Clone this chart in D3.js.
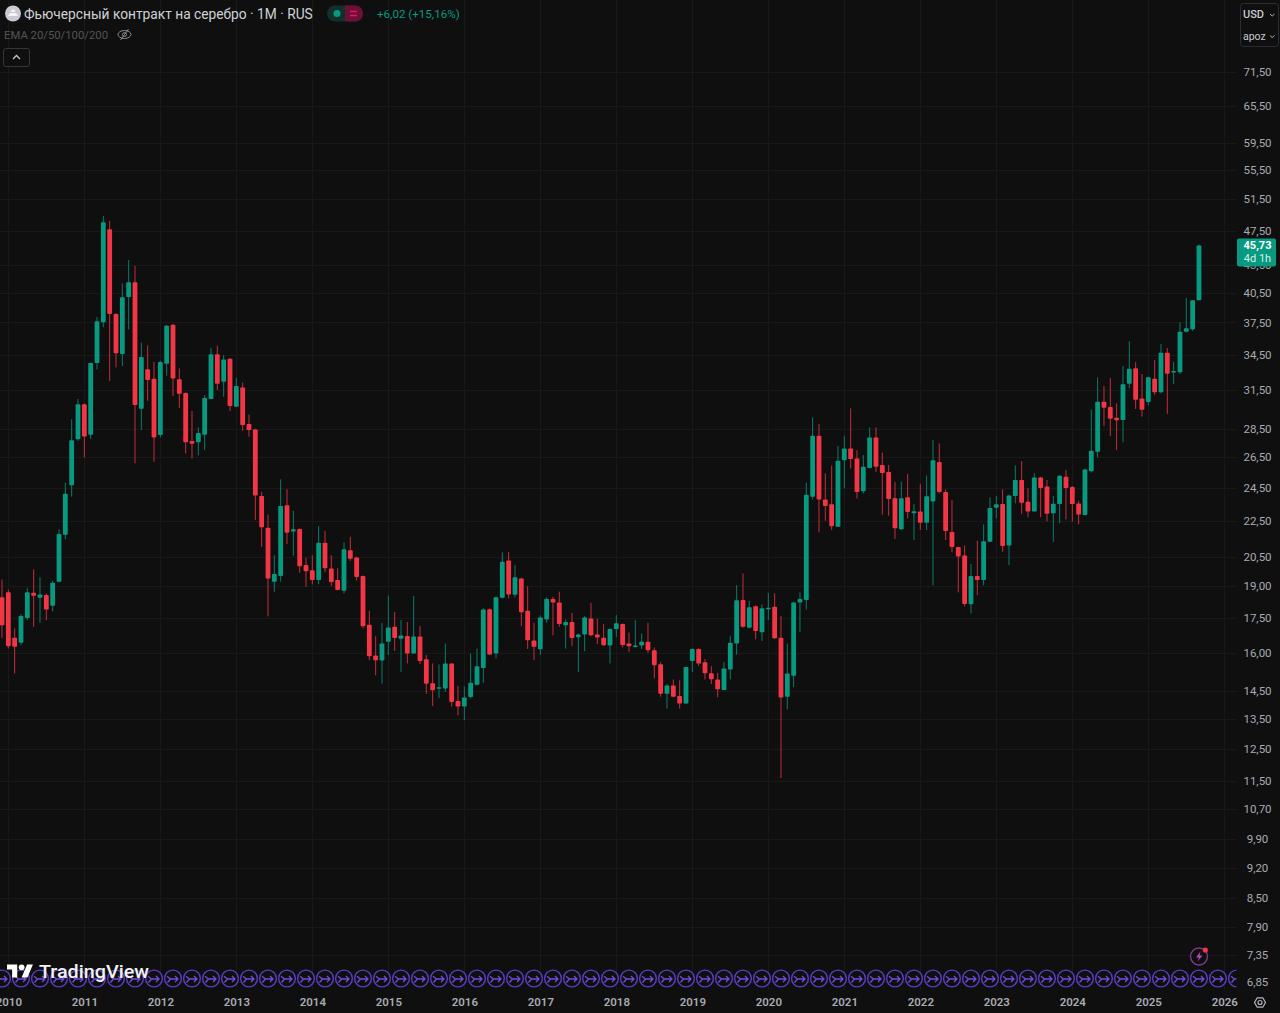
<!DOCTYPE html>
<html lang="ru">
<head>
<meta charset="utf-8">
<title>Фьючерсный контракт на серебро</title>
<script src="https://cdn.jsdelivr.net/npm/d3@7/dist/d3.min.js"></script>
<style>
html,body{margin:0;padding:0;background:#0f0f0f;overflow:hidden}
svg{display:block}
text{font-family:Roboto,"Noto Sans",sans-serif}
</style>
</head>
<body>
<svg id="chart" width="1280" height="1013"></svg>
<script>
// Monthly candles, Dec 2009 .. Sep 2025 (first element is month index -1, Jan 2010 = 0)
const firstMonthIndex = -1;
const opens = [18.46,18.71,16.63,16.42,17.50,18.68,18.44,18.57,18.06,19.22,21.69,24.64,27.74,
30.36,28.07,33.77,37.51,47.67,38.33,34.57,40.03,41.58,30.02,33.23,32.43,
28.05,33.71,37.28,32.38,31.26,27.62,27.53,28.07,30.78,34.55,32.18,34.14,
30.17,31.71,28.86,28.46,23.97,22.09,19.22,19.51,23.40,21.87,22.02,20.06,
19.80,19.30,21.25,19.88,19.30,18.78,20.85,20.46,19.50,17.20,15.89,15.69,
16.46,17.11,16.59,16.71,15.97,16.69,15.74,14.79,14.62,14.60,15.57,14.13,
13.93,14.28,14.74,15.39,17.90,15.97,18.44,20.30,18.58,19.38,17.83,16.52,
16.15,17.44,18.38,18.22,17.18,17.32,16.66,16.77,17.48,16.77,16.64,16.31,
17.01,17.23,16.39,16.27,16.31,16.46,16.11,15.54,14.40,14.71,14.32,14.04,
15.67,16.16,15.62,15.18,14.94,14.54,15.33,16.39,18.33,17.07,18.04,16.87,
17.92,18.02,16.64,14.29,15.08,18.22,18.33,23.93,27.99,23.76,23.46,22.14,
26.28,27.10,26.41,24.26,25.76,27.88,25.96,25.50,23.84,22.00,23.89,22.93,
23.03,22.37,23.64,26.16,24.22,21.85,21.02,20.56,18.14,19.50,19.30,21.30,
23.25,23.48,21.10,23.97,24.98,23.62,23.03,25.15,24.56,22.93,23.48,25.19,
24.53,23.52,22.83,25.55,26.86,30.56,30.15,29.33,29.16,32.01,33.31,30.83,
30.54,32.43,31.32,34.68,32.97,32.97,36.61,36.84,39.71];
const highs = [19.33,18.84,17.04,17.68,18.92,19.84,19.44,18.65,19.27,22.00,24.81,29.21,30.78,
30.44,33.83,38.02,49.33,48.70,38.40,41.47,44.04,43.40,35.60,35.34,33.86,
33.97,37.25,37.35,33.31,31.32,29.84,28.61,31.10,35.13,35.31,34.47,34.20,
32.51,32.10,29.56,28.51,24.23,22.85,20.58,25.02,24.40,23.08,22.06,20.45,
20.58,22.18,21.92,20.58,19.90,21.27,21.58,20.50,19.53,17.83,16.70,17.29,
18.54,17.78,17.41,17.32,18.52,17.14,15.91,15.57,15.53,16.39,15.57,14.69,
14.67,15.97,16.18,17.94,17.94,18.49,20.73,20.75,20.06,19.42,19.00,17.29,
17.62,18.46,18.49,18.73,17.44,17.74,16.82,17.59,18.20,17.47,17.23,17.04,
17.64,17.26,16.86,17.41,16.82,17.29,16.22,15.63,14.76,14.94,14.91,15.44,
16.19,16.19,15.75,15.46,15.19,15.62,16.70,19.05,19.63,18.30,18.08,18.13,
18.68,18.65,17.59,16.39,18.25,18.70,24.81,29.36,28.86,25.41,25.92,27.26,
27.99,30.05,26.98,26.64,28.61,28.61,26.80,25.96,24.87,24.87,25.38,23.48,
24.72,25.27,27.69,27.45,24.38,23.72,21.03,21.10,20.11,21.36,22.28,23.89,
23.97,24.38,24.05,25.94,26.23,24.45,25.41,25.19,24.98,23.97,25.30,25.63,
24.60,23.68,25.72,29.97,32.55,31.82,32.49,30.44,33.51,35.71,33.85,32.83,
32.60,34.03,35.48,35.10,33.89,37.51,39.95,39.71,45.85];
const lows = [16.63,16.18,15.17,16.32,17.41,17.11,17.29,17.41,17.80,19.19,21.44,23.93,27.64,
26.48,27.76,33.23,37.03,32.24,33.40,33.51,36.84,26.08,28.41,30.64,26.19,
27.88,32.68,31.02,30.08,26.75,26.41,26.62,26.98,30.78,31.50,30.96,29.84,
30.17,28.36,27.92,22.53,21.03,17.58,18.73,19.22,21.18,20.55,19.67,18.97,
19.09,19.10,19.70,19.02,18.80,18.65,20.28,19.27,17.04,15.70,15.10,14.78,
15.91,16.08,15.23,15.57,15.95,15.54,14.40,13.95,14.24,14.47,13.93,13.62,
13.45,14.23,14.71,14.81,15.91,15.78,18.41,18.41,18.46,17.14,16.16,15.70,
15.91,17.29,16.74,17.11,16.18,16.28,15.23,16.07,16.70,16.36,16.29,15.57,
16.66,16.22,16.04,16.22,16.16,16.00,14.98,14.29,13.86,14.27,13.86,14.03,
15.23,15.46,14.94,14.76,14.27,14.53,14.94,15.92,17.07,17.04,16.57,16.50,
17.41,16.59,11.59,13.83,14.65,16.89,17.89,23.76,21.83,22.49,21.96,22.13,
24.45,25.74,23.82,24.13,25.74,25.50,22.85,22.79,21.46,21.96,22.63,21.40,
21.96,21.96,19.04,24.13,21.40,20.74,18.70,18.04,17.71,18.57,19.04,21.29,
22.63,20.76,20.06,23.52,22.90,22.69,23.03,22.69,22.46,21.30,22.35,22.57,
22.44,22.29,22.79,25.46,26.48,28.70,27.97,26.98,27.53,31.64,30.00,29.41,
30.29,31.12,31.24,29.62,31.98,32.83,36.55,36.68,39.71];
const closes = [17.18,16.28,16.25,17.60,18.70,18.54,18.60,17.89,19.17,21.73,24.11,27.67,30.36,
27.95,33.77,37.61,48.53,38.33,34.63,40.00,41.58,30.31,34.30,32.32,27.88,
33.85,37.18,32.46,31.20,27.53,27.43,28.19,30.86,34.55,32.01,34.09,30.23,
31.82,28.78,28.41,24.00,22.11,19.38,19.60,23.36,21.81,22.00,20.00,19.74,
19.30,21.25,19.90,19.20,18.81,20.90,20.39,19.46,17.14,15.86,15.70,16.39,
17.08,16.62,16.73,15.97,16.69,15.67,14.78,14.53,14.64,15.57,14.10,13.93,
14.26,14.81,15.46,17.89,15.93,18.47,20.23,18.60,19.44,17.77,16.53,16.25,
17.53,18.38,18.22,17.23,17.32,16.62,16.77,17.53,16.74,16.65,16.32,17.01,
17.27,16.33,16.27,16.31,16.46,16.11,15.50,14.40,14.71,14.29,14.04,15.43,
16.16,15.57,15.18,14.95,14.57,15.37,16.42,18.32,17.11,18.00,16.93,17.95,
17.97,16.61,14.26,15.17,18.22,18.38,24.05,27.99,23.76,23.36,22.18,26.25,
27.10,26.37,24.22,25.85,27.88,25.85,25.44,23.78,22.06,23.84,23.01,23.05,
22.37,23.95,26.28,24.22,21.90,21.02,20.51,18.15,19.50,19.30,21.33,23.24,
23.46,21.07,24.00,24.98,23.56,23.03,25.15,24.47,22.90,23.50,25.25,24.47,
23.48,22.85,25.67,26.93,30.56,30.10,29.26,29.14,31.98,33.28,30.72,29.94,
32.55,31.32,34.68,32.86,33.08,36.61,36.93,39.71,45.73];

const priceTicks = [71.5,65.5,59.5,55.5,51.5,47.5,43.5,40.5,37.5,34.5,31.5,28.5,26.5,24.5,22.5,20.5,19,17.5,16,14.5,13.5,12.5,11.5,10.7,9.9,9.2,8.5,7.9,7.35,6.85];
const yearLabels = [2010,2011,2012,2013,2014,2015,2016,2017,2018,2019,2020,2021,2022,2023,2024,2025,2026];
const eventMonths = d3.range(-1, 196, 3);
const lastPrice = 45.73;
const titleText = "Фьючерсный контракт на серебро · 1M · RUS";
const changeText = "+6,02 (+15,16%)";

const UP = "#089981", DOWN = "#f23645", TXT = "#a8abb2", GRID = "#191919", BG = "#0f0f0f";
const svg = d3.select("#chart");
svg.append("rect").attr("width",1280).attr("height",1013).attr("fill",BG);

const plotRight = 1236.5;
const x = d3.scaleLinear().domain([0,192]).range([8.33,1224.3]);
const y = d3.scaleLog().domain([71.5,6.85]).range([72,982]);
const fmt = v => v.toFixed(2).replace(".",",");

svg.append("defs").append("clipPath").attr("id","plot")
  .append("rect").attr("x",0).attr("y",0).attr("width",plotRight).attr("height",1013);

// grid
const grid = svg.append("g").attr("stroke",GRID).attr("stroke-width",1);
grid.selectAll(".h").data(priceTicks).join("line")
  .attr("x1",0).attr("x2",plotRight)
  .attr("y1",d=>Math.round(y(d))+.5).attr("y2",d=>Math.round(y(d))+.5);
grid.selectAll(".v").data(yearLabels).join("line")
  .attr("x1",d=>Math.round(x((d-2010)*12))+.5).attr("x2",d=>Math.round(x((d-2010)*12))+.5)
  .attr("y1",0).attr("y2",990);

// candles
const candles = d3.range(opens.length).map(i=>({m:i+firstMonthIndex,o:opens[i],h:highs[i],l:lows[i],c:closes[i]}));
const gC = svg.append("g").attr("clip-path","url(#plot)");
const col = d => d.c>=d.o ? UP : DOWN;
gC.selectAll("line.w").data(candles).join("line").attr("class","w")
  .attr("x1",d=>x(d.m)).attr("x2",d=>x(d.m))
  .attr("y1",d=>y(d.h)).attr("y2",d=>y(d.l))
  .attr("stroke",col).attr("stroke-width",1).attr("stroke-opacity",.8);
gC.selectAll("rect.b").data(candles).join("rect").attr("class","b")
  .attr("x",d=>x(d.m)-2.4).attr("width",4.8)
  .attr("y",d=>y(Math.max(d.o,d.c)))
  .attr("height",d=>Math.max(1.5,Math.abs(y(d.o)-y(d.c))))
  .attr("rx",.8)
  .attr("fill",col);

// event markers
const ev = svg.append("g").attr("clip-path","url(#plot)").selectAll("g").data(eventMonths).join("g")
  .attr("transform",d=>`translate(${x(d)},978.5)`);
ev.append("circle").attr("r",8.4).attr("fill",BG).attr("stroke","#5b3cc4").attr("stroke-width",1.4);
ev.append("path").attr("d","M-6 -2.2 L-2.5 0.5 L5 0.5 M2 -2.5 L5 0.5 L2 3.5 M-5.5 4 L-2.5 0.5")
  .attr("fill","none").attr("stroke","#6f4fd8").attr("stroke-width",1.3);

// price axis
const yAxis = d3.axisRight(y).tickValues(priceTicks).tickFormat(fmt).tickSize(0).tickPadding(0);
const gY = svg.append("g").attr("transform","translate(1257.5,0)").call(yAxis);
gY.select(".domain").remove();
gY.selectAll("text").attr("x",0).attr("text-anchor","middle").attr("fill",TXT).attr("font-size",11.5).attr("font-weight",400);

// time axis
const xAxis = d3.axisBottom(x).tickValues(yearLabels.map(d=>(d-2010)*12)).tickFormat(d=>2010+d/12).tickSize(0).tickPadding(0);
const gX = svg.append("g").attr("transform","translate(0,998)").call(xAxis);
gX.select(".domain").remove();
gX.selectAll("text").attr("fill",TXT).attr("font-size",11.5).attr("font-weight",600);

// last price badge
const badgeY = y(lastPrice);
svg.append("rect").attr("x",1237).attr("y",badgeY-7).attr("width",39).attr("height",28).attr("rx",2).attr("fill",UP);
svg.append("text").attr("x",1257.5).attr("y",badgeY+4).attr("text-anchor","middle").attr("fill","#fff").attr("font-size",11).attr("font-weight",700).text(fmt(lastPrice));
svg.append("text").attr("x",1257.5).attr("y",badgeY+16.5).attr("text-anchor","middle").attr("fill","#d5f0ea").attr("font-size",11).text("4d 1h");

// header
svg.append("circle").attr("cx",13).attr("cy",13.5).attr("r",8).attr("fill","#c9c9d2");
svg.append("path").attr("d","M8 16 L10 13 L16 13 L18 16 Z M10.5 12 L12 9.5 L14.5 9.5 L15.5 12 Z").attr("fill","#f4f4f6");
svg.append("text").attr("x",24).attr("y",18.5).attr("fill","#cfd1d6").attr("font-size",13.75).text(titleText);

svg.append("rect").attr("x",327).attr("y",5.5).attr("width",36).attr("height",16).attr("rx",8).attr("fill","#12302c");
svg.append("path").attr("d","M345 5.5 H355 a8 8 0 0 1 0 16 H345 Z").attr("fill","#6e0f38");
svg.append("circle").attr("cx",337).attr("cy",13.5).attr("r",3.5).attr("fill",UP);
svg.append("path").attr("d","M350 11.5 H357 M350 15.5 H357").attr("stroke","#d81b60").attr("stroke-width",1.4);
svg.append("text").attr("x",377).attr("y",18).attr("fill",UP).attr("font-size",11.6).text(changeText);

svg.append("text").attr("x",4).attr("y",39).attr("fill","#555").attr("font-size",11.3).text("EMA 20/50/100/200");
const eye = svg.append("g").attr("transform","translate(124.5,34.5)").attr("fill","none").attr("stroke","#8a8a8a").attr("stroke-width",1);
eye.append("ellipse").attr("rx",6.5).attr("ry",4);
eye.append("circle").attr("r",2);
eye.append("line").attr("x1",-4).attr("y1",5.5).attr("x2",4).attr("y2",-5.5);

svg.append("rect").attr("x",3.5).attr("y",48.5).attr("width",26).attr("height",18).attr("rx",2.5).attr("fill",BG).attr("stroke","#363636");
svg.append("path").attr("d","M13 59 L16.5 55.5 L20 59").attr("fill","none").attr("stroke","#c8c8c8").attr("stroke-width",1.3);

// currency/unit box
svg.append("rect").attr("x",1240.5).attr("y",3.5).attr("width",38).attr("height",43).attr("rx",3).attr("fill",BG).attr("stroke","#2a2e33");
svg.append("text").attr("x",1243).attr("y",18).attr("fill","#c8cad0").attr("font-size",11).attr("font-weight",500).text("USD");
svg.append("text").attr("x",1243).attr("y",40).attr("fill","#c8cad0").attr("font-size",10.5).text("apoz");
svg.append("path").attr("d","M1270 14 L1272.2 16 L1274.5 14 M1270 35.5 L1272.2 37.5 L1274.5 35.5").attr("fill","none").attr("stroke","#b0b0b0");

// lightning badge
svg.append("circle").attr("cx",1199).attr("cy",956.5).attr("r",8.5).attr("fill",BG).attr("stroke","#7d3a93").attr("stroke-width",1.4);
svg.append("path").attr("d","M1200.5 951.5 L1196 957.5 L1199 957.5 L1197.5 961.5 L1202.5 955.5 L1199.5 955.5 Z").attr("fill","#b44bc4");
svg.append("circle").attr("cx",1205.3).attr("cy",950).attr("r",2.6).attr("fill","#f23645");

// TradingView logo
const logo = svg.append("g").attr("transform","translate(7,961.5) scale(.73)").attr("fill","#fff");
logo.append("path").attr("d","M14 22H7V11H0V4h14v18zM28 22h-8l7.5-18h8L28 22z");
logo.append("circle").attr("cx",20).attr("cy",8).attr("r",4);
svg.append("text").attr("x",39).attr("y",978).attr("fill","#f2f2f2").attr("font-size",19).attr("font-weight",500).attr("textLength",110).attr("lengthAdjust","spacingAndGlyphs").text("TradingView");

// settings icon
svg.append("path").attr("d","M1254.5 1002.5 L1257.2 997.8 H1262.8 L1265.5 1002.5 L1262.8 1007.2 H1257.2 Z").attr("fill","none").attr("stroke","#b2b5be").attr("stroke-width",1.2);
svg.append("circle").attr("cx",1260).attr("cy",1002.5).attr("r",2).attr("fill","none").attr("stroke","#b2b5be").attr("stroke-width",1.2);
</script>
</body>
</html>
